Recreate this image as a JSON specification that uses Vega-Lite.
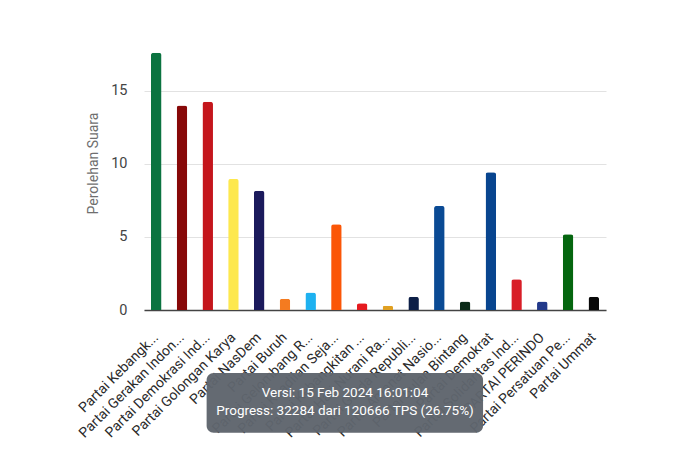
{
  "$schema": "https://vega.github.io/schema/vega-lite/v6.json",
  "autosize": {"type": "none"},
  "padding": {"left": 144, "top": 47, "right": 84, "bottom": 150},
  "width": 462,
  "height": 263,
  "background": "white",
  "config": {
    "view": {"stroke": null},
    "font": "Roboto"
  },
  "layer": [
    {
      "data": {
        "values": [
          {"partai": "Partai Kebangk...", "suara": 17.6},
          {"partai": "Partai Gerakan Indon...", "suara": 14.0},
          {"partai": "Partai Demokrasi Ind...", "suara": 14.25},
          {"partai": "Partai Golongan Karya", "suara": 8.97},
          {"partai": "Partai NasDem", "suara": 8.17},
          {"partai": "Partai Buruh", "suara": 0.77},
          {"partai": "Partai Gelombang R...", "suara": 1.2},
          {"partai": "Partai Keadilan Seja...", "suara": 5.87},
          {"partai": "Partai Kebangkitan ...", "suara": 0.46},
          {"partai": "Partai Hati Nurani Ra...", "suara": 0.29},
          {"partai": "Partai Garda Republi...", "suara": 0.91},
          {"partai": "Partai Amanat Nasio...", "suara": 7.12},
          {"partai": "Partai Bulan Bintang", "suara": 0.59},
          {"partai": "Partai Demokrat", "suara": 9.43},
          {"partai": "Partai Solidaritas Ind...", "suara": 2.1},
          {"partai": "PARTAI PERINDO", "suara": 0.59},
          {"partai": "Partai Persatuan Pe...", "suara": 5.18},
          {"partai": "Partai Ummat", "suara": 0.91}
        ]
      },
      "mark": {"type": "bar", "cornerRadiusTopLeft": 2.5, "cornerRadiusTopRight": 2.5},
      "encoding": {
        "x": {
          "field": "partai",
          "type": "nominal",
          "sort": null,
          "scale": {"paddingInner": 0.59, "paddingOuter": 0.27},
          "axis": {
            "title": null,
            "labelAngle": -45,
            "labelAlign": "right",
            "labelBaseline": "middle",
            "labelFontSize": 14,
            "labelColor": "#2a2a2a",
            "labelPadding": 25,
            "ticks": false,
            "labelLimit": 300,
            "domainColor": "#444444",
            "domainWidth": 1.5,
            "grid": false
          }
        },
        "y": {
          "field": "suara",
          "type": "quantitative",
          "scale": {"domain": [0, 18], "nice": false},
          "axis": {
            "title": "Perolehan Suara",
            "titleFontSize": 14,
            "titleFontWeight": "normal",
            "titleColor": "#6f6f6f",
            "titleY": 116,
            "titlePadding": 10,
            "values": [0, 5, 10, 15],
            "labelFontSize": 14.5,
            "labelColor": "#444444",
            "labelPadding": 17,
            "ticks": false,
            "domain": false,
            "gridColor": "#e2e2e2",
            "gridWidth": 1
          }
        },
        "color": {
          "field": "partai",
          "type": "nominal",
          "sort": null,
          "legend": null,
          "scale": {
            "domain": ["Partai Kebangk...", "Partai Gerakan Indon...", "Partai Demokrasi Ind...", "Partai Golongan Karya", "Partai NasDem", "Partai Buruh", "Partai Gelombang R...", "Partai Keadilan Seja...", "Partai Kebangkitan ...", "Partai Hati Nurani Ra...", "Partai Garda Republi...", "Partai Amanat Nasio...", "Partai Bulan Bintang", "Partai Demokrat", "Partai Solidaritas Ind...", "PARTAI PERINDO", "Partai Persatuan Pe...", "Partai Ummat"],
            "range": ["#0b7340", "#870808", "#c4161c", "#fde84e", "#1b1a5c", "#f47b20", "#1eb1f0", "#fb5607", "#e51a1f", "#e0a022", "#0d1f47", "#0a4a94", "#0b2a18", "#08458f", "#d81e27", "#22398a", "#05660f", "#080808"]
          }
        }
      }
    },
    {
      "data": {
        "values": [
          {"x1": 2.44, "x2": 13.21, "y1": -4.31, "y2": -8.4, "xc": 7.83, "line1": "Versi: 15 Feb 2024 16:01:04", "y_l1": -5.68, "line2": "Progress: 32284 dari 120666 TPS (26.75%)", "y_l2": -6.92}
        ]
      },
      "layer": [
        {
          "mark": {"type": "rect", "cornerRadius": 7, "color": "#5f656d", "opacity": 0.97},
          "encoding": {
            "x": {"field": "x1", "type": "quantitative", "scale": {"domain": [0, 18], "nice": false, "zero": false}, "axis": null},
            "x2": {"field": "x2"},
            "y": {"field": "y1", "type": "quantitative"},
            "y2": {"field": "y2"}
          }
        },
        {
          "mark": {"type": "text", "color": "white", "fontSize": 13.5, "align": "center", "baseline": "middle"},
          "encoding": {
            "x": {"field": "xc", "type": "quantitative"},
            "y": {"field": "y_l1", "type": "quantitative"},
            "text": {"field": "line1"}
          }
        },
        {
          "mark": {"type": "text", "color": "white", "fontSize": 13.5, "align": "center", "baseline": "middle"},
          "encoding": {
            "x": {"field": "xc", "type": "quantitative"},
            "y": {"field": "y_l2", "type": "quantitative"},
            "text": {"field": "line2"}
          }
        }
      ]
    }
  ],
  "resolve": {"scale": {"x": "independent"}, "axis": {"x": "independent"}}
}
